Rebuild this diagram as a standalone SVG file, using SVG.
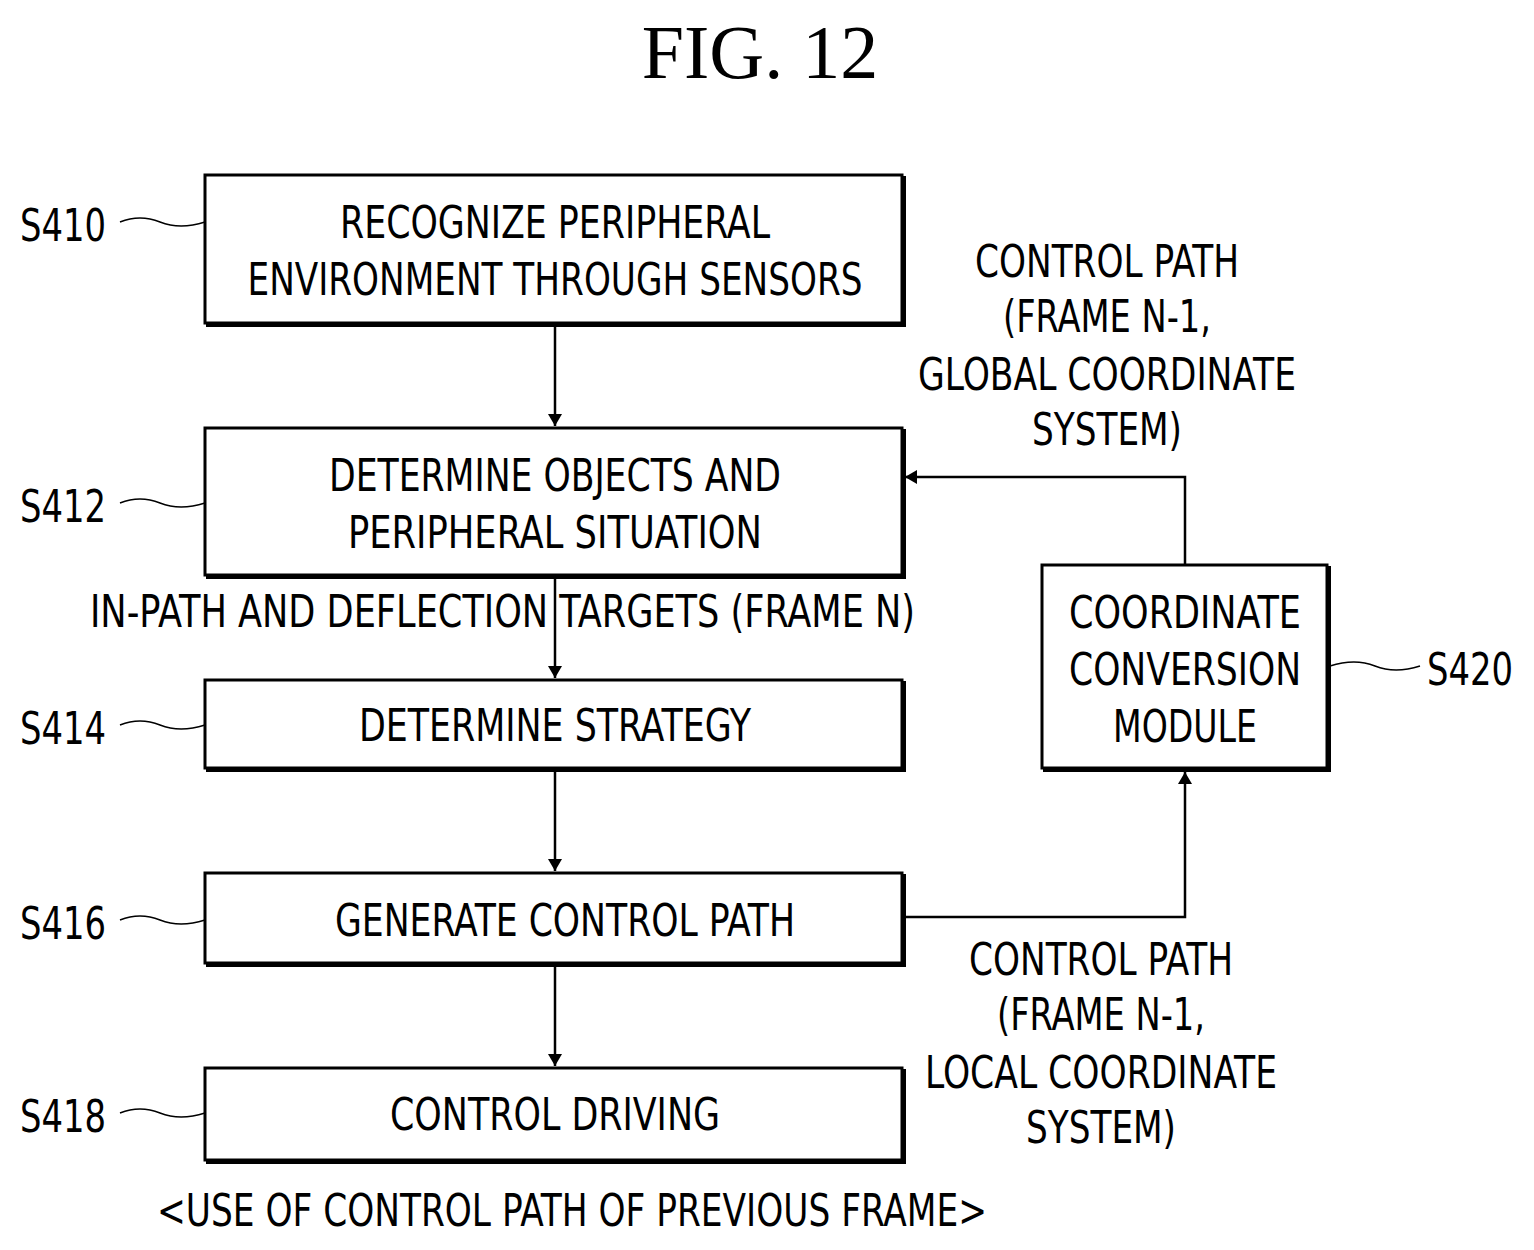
<svg xmlns="http://www.w3.org/2000/svg" width="1534" height="1250" viewBox="0 0 1534 1250">
<defs>
<marker id="ah" markerWidth="12" markerHeight="14" refX="12" refY="7" orient="auto" markerUnits="userSpaceOnUse"><path d="M0,0 L12,7 L0,14 Z" fill="#000"/></marker>
<style>
.box{fill:#fff;stroke:#000;stroke-width:3}
.sh{fill:none;stroke:#000;stroke-width:4}
.t{font-family:"DejaVu Sans Condensed","DejaVu Sans",sans-serif;font-size:44px;fill:#000;text-anchor:middle}
.l{font-family:"DejaVu Sans Condensed","DejaVu Sans",sans-serif;font-size:44px;fill:#000}
.c{fill:none;stroke:#000;stroke-width:2.5}
.sq{fill:none;stroke:#000;stroke-width:1.5}
</style>
</defs>
<text x="760" y="78" font-family="Liberation Serif,serif" font-size="76" text-anchor="middle">FIG. 12</text>
<g id="connectors">
<line class="c" x1="555" y1="327" x2="555" y2="426" marker-end="url(#ah)"/>
<line class="c" x1="555" y1="579" x2="555" y2="678" marker-end="url(#ah)"/>
<line class="c" x1="555" y1="772" x2="555" y2="871" marker-end="url(#ah)"/>
<line class="c" x1="555" y1="967" x2="555" y2="1066" marker-end="url(#ah)"/>
<polyline class="c" points="905,917 1185,917 1185,772" marker-end="url(#ah)"/>
<polyline class="c" points="1185,565 1185,477 905,477" marker-end="url(#ah)"/>
<path class="sq" d="M120,222 q20,-8 40,0 t45,0"/>
<path class="sq" d="M120,503 q20,-8 40,0 t45,0"/>
<path class="sq" d="M120,725 q20,-8 40,0 t45,0"/>
<path class="sq" d="M120,920 q20,-8 40,0 t45,0"/>
<path class="sq" d="M120,1113 q20,-8 40,0 t45,0"/>
<path class="sq" d="M1330,666 q25,-8 45,0 t45,0"/>
</g>
<g id="S410"><rect class="box" x="205" y="175" width="697" height="148"/><polyline class="sh" points="904,176 904,325 206,325"/>
<text class="t" x="555" y="238" textLength="430" lengthAdjust="spacingAndGlyphs">RECOGNIZE PERIPHERAL</text>
<text class="t" x="555" y="295" textLength="615" lengthAdjust="spacingAndGlyphs">ENVIRONMENT THROUGH SENSORS</text>
<text class="l" x="20" y="241" textLength="86" lengthAdjust="spacingAndGlyphs">S410</text></g>
<g id="S412"><rect class="box" x="205" y="428" width="697" height="147"/><polyline class="sh" points="904,429 904,577 206,577"/>
<text class="t" x="555" y="491" textLength="452" lengthAdjust="spacingAndGlyphs">DETERMINE OBJECTS AND</text>
<text class="t" x="555" y="548" textLength="414" lengthAdjust="spacingAndGlyphs">PERIPHERAL SITUATION</text>
<text class="l" x="20" y="522" textLength="86" lengthAdjust="spacingAndGlyphs">S412</text></g>
<text class="l" x="90" y="627" textLength="825" lengthAdjust="spacingAndGlyphs">IN-PATH AND DEFLECTION TARGETS (FRAME N)</text>
<g id="S414"><rect class="box" x="205" y="680" width="697" height="88"/><polyline class="sh" points="904,681 904,770 206,770"/>
<text class="t" x="555" y="741" textLength="392" lengthAdjust="spacingAndGlyphs">DETERMINE STRATEGY</text>
<text class="l" x="20" y="744" textLength="86" lengthAdjust="spacingAndGlyphs">S414</text></g>
<g id="S416"><rect class="box" x="205" y="873" width="697" height="90"/><polyline class="sh" points="904,874 904,965 206,965"/>
<text class="t" x="565" y="936" textLength="460" lengthAdjust="spacingAndGlyphs">GENERATE CONTROL PATH</text>
<text class="l" x="20" y="939" textLength="86" lengthAdjust="spacingAndGlyphs">S416</text></g>
<g id="S418"><rect class="box" x="205" y="1068" width="697" height="92"/><polyline class="sh" points="904,1069 904,1162 206,1162"/>
<text class="t" x="555" y="1130" textLength="330" lengthAdjust="spacingAndGlyphs">CONTROL DRIVING</text>
<text class="l" x="20" y="1132" textLength="86" lengthAdjust="spacingAndGlyphs">S418</text></g>
<g id="S420"><rect class="box" x="1042" y="565" width="285" height="203"/><polyline class="sh" points="1329,566 1329,770 1043,770"/>
<text class="t" x="1185" y="628" textLength="232" lengthAdjust="spacingAndGlyphs">COORDINATE</text>
<text class="t" x="1185" y="685" textLength="232" lengthAdjust="spacingAndGlyphs">CONVERSION</text>
<text class="t" x="1185" y="742" textLength="144" lengthAdjust="spacingAndGlyphs">MODULE</text>
<text class="l" x="1427" y="685" textLength="86" lengthAdjust="spacingAndGlyphs">S420</text></g>
<g id="label-global">
<text class="t" x="1107" y="277" textLength="264" lengthAdjust="spacingAndGlyphs">CONTROL PATH</text>
<text class="t" x="1107" y="332" textLength="208" lengthAdjust="spacingAndGlyphs">(FRAME N-1,</text>
<text class="t" x="1107" y="390" textLength="378" lengthAdjust="spacingAndGlyphs">GLOBAL COORDINATE</text>
<text class="t" x="1107" y="445" textLength="150" lengthAdjust="spacingAndGlyphs">SYSTEM)</text></g>
<g id="label-local">
<text class="t" x="1101" y="975" textLength="264" lengthAdjust="spacingAndGlyphs">CONTROL PATH</text>
<text class="t" x="1101" y="1030" textLength="208" lengthAdjust="spacingAndGlyphs">(FRAME N-1,</text>
<text class="t" x="1101" y="1088" textLength="352" lengthAdjust="spacingAndGlyphs">LOCAL COORDINATE</text>
<text class="t" x="1101" y="1143" textLength="150" lengthAdjust="spacingAndGlyphs">SYSTEM)</text></g>
<text class="t" x="572" y="1226" textLength="830" lengthAdjust="spacingAndGlyphs">&lt;USE OF CONTROL PATH OF PREVIOUS FRAME&gt;</text>
</svg>
